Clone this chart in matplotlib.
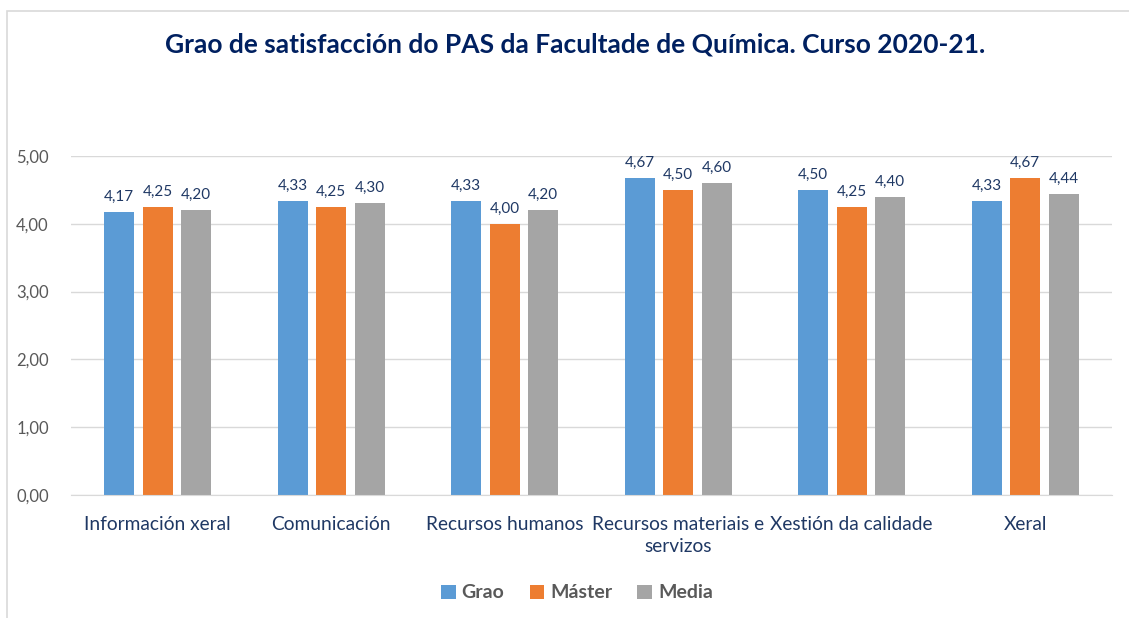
import numpy as np
import matplotlib.pyplot as plt
from matplotlib.patches import Rectangle

categories = ["Información xeral", "Comunicación", "Recursos humanos",
              "Recursos materiais e\nservizos", "Xestión da calidade", "Xeral"]
grao = [4.17, 4.33, 4.33, 4.67, 4.50, 4.33]
master = [4.25, 4.25, 4.00, 4.50, 4.25, 4.67]
media = [4.20, 4.30, 4.20, 4.60, 4.40, 4.44]
series = ["Grao", "Máster", "Media"]
colors = ["#5b9bd5", "#ed7d31", "#a5a5a5"]
yticks = [0, 1, 2, 3, 4, 5]

plt.rcParams['font.family'] = ['Lato', 'DejaVu Sans']
navy = "#1f3864"

fig = plt.figure(figsize=(11.29, 6.18), dpi=100)
ax = fig.add_axes([71/1129, 1-495/618, (1112-71)/1129, (495-156)/618])

x = np.arange(len(categories))
w = 0.173
step = 0.222
for i, (vals, name, c) in enumerate(zip([grao, master, media], series, colors)):
    bars = ax.bar(x + (i-1)*step, vals, w, color=c, label=name, zorder=3)
    for b, v in zip(bars, vals):
        ax.text(b.get_x()+b.get_width()/2, v+0.12, f"{v:.2f}".replace(".", ","),
                ha="center", va="bottom", fontsize=11, color=navy)

ax.set_xlim(-0.5, len(categories)-0.5)
ax.set_ylim(0, 5)
ax.set_yticks(yticks)
ax.set_yticklabels([f"{t:.2f}".replace(".", ",") for t in yticks], fontsize=12, color="#595959")
ax.set_xticks(x)
ax.set_xticklabels(categories, fontsize=13.8, color=navy, linespacing=1.4)
ax.tick_params(axis="both", length=0)
ax.tick_params(axis="y", pad=16)
ax.tick_params(axis="x", pad=15)
ax.grid(axis="y", color="#d9d9d9", linewidth=1, zorder=0)
for s in ["top", "right", "left"]:
    ax.spines[s].set_visible(False)
ax.spines["bottom"].set_color("#d9d9d9")
ax.spines["bottom"].set_zorder(4)

fig.text(575/1129, 1-45/618, "Grao de satisfacción do PAS da Facultade de Química. Curso 2020-21.",
         ha="center", va="center", fontsize=19, fontweight="bold", color="#002060")

leg = fig.legend(loc="center", bbox_to_anchor=(577/1129, 1-593/618), ncol=3, frameon=False,
                 prop={"size": 14, "weight": "bold"}, handlelength=0.75, handleheight=0.75,
                 handletextpad=0.3, columnspacing=1.3)
for t in leg.get_texts():
    t.set_color("#595959")

fig.patches.append(Rectangle((7/1129, -0.1), 1.2, 1-11/618+0.1, transform=fig.transFigure,
                             fill=False, edgecolor="#d9d9d9", linewidth=1.2))

fig.savefig("out.png", dpi=100)
